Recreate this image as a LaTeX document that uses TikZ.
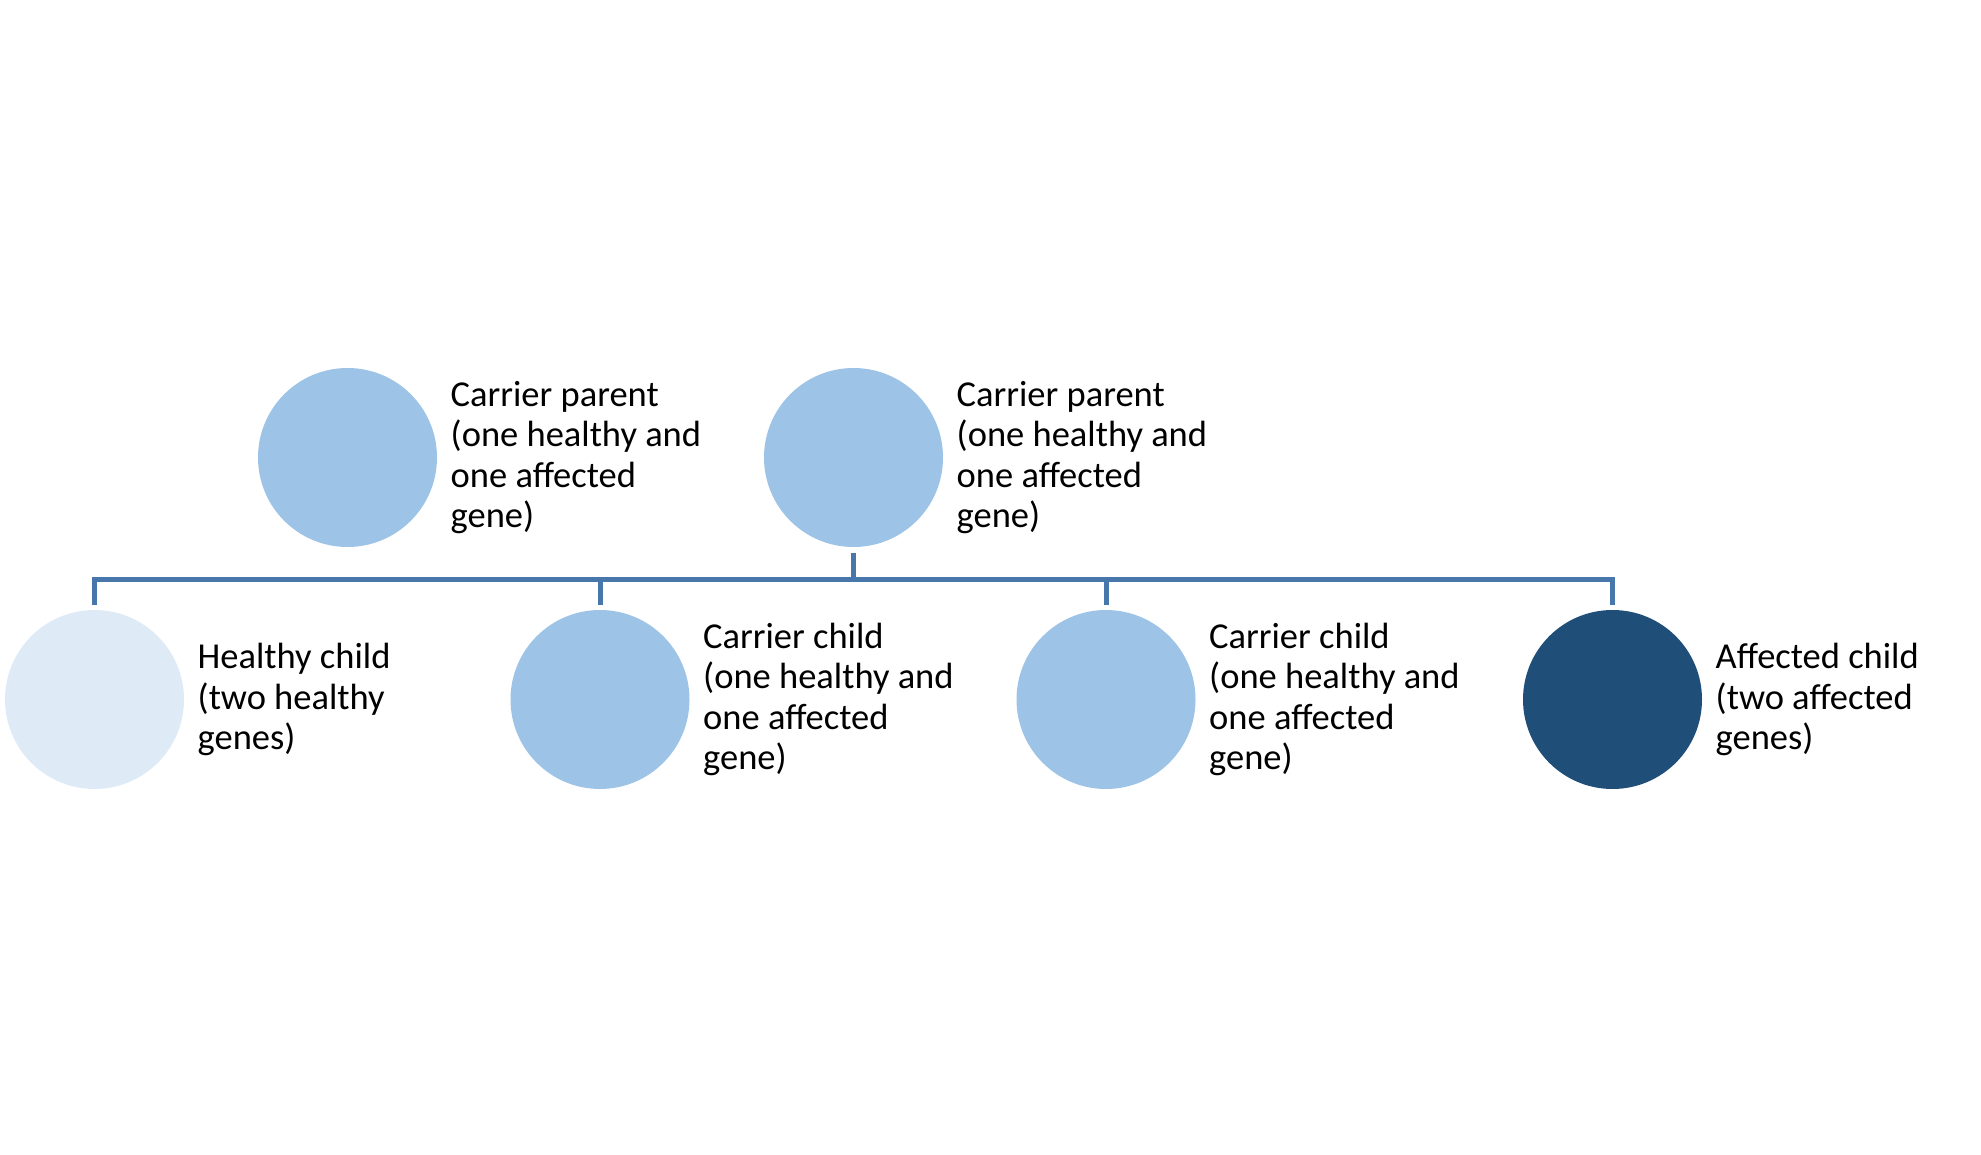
\documentclass[tikz,border=0pt]{standalone}
\usepackage{fontspec}
\setmainfont{Carlito}
\definecolor{carrier}{HTML}{9DC3E6}
\definecolor{healthy}{HTML}{DEEBF7}
\definecolor{affected}{HTML}{1F4E79}
\definecolor{linkc}{HTML}{4878AB}
\begin{document}
\begin{tikzpicture}[x=1pt,y=-1pt,
  person/.style={circle,minimum size=179pt,inner sep=0pt,outer sep=5.5pt,draw=none},
  lbl/.style={anchor=west,align=left,inner sep=0pt,font=\fontsize{36.5}{40.5}\selectfont},
  link/.style={draw=linkc,line width=5pt}]
\useasboundingbox (0,0) rectangle (1981,1155);
\node[person,fill=carrier] (p1) at (347.5,457.5) {};
\node[person,fill=carrier] (p2) at (853.5,457.5) {};
\node[person,fill=healthy] (c1) at (94.5,699.5) {};
\node[person,fill=carrier] (c2) at (600,699.5) {};
\node[person,fill=carrier] (c3) at (1106,699.5) {};
\node[person,fill=affected] (c4) at (1612.5,699.5) {};
\node[lbl] (t1) at ([xshift=8pt]p1.east) {Carrier parent\\(one healthy and\\one affected\\gene)};
\node[lbl] (t2) at ([xshift=8pt]p2.east) {Carrier parent\\(one healthy and\\one affected\\gene)};
\node[lbl] (u1) at ([xshift=8pt]c1.east) {Healthy child\\(two healthy\\genes)};
\node[lbl] (u2) at ([xshift=8pt]c2.east) {Carrier child\\(one healthy and\\one affected\\gene)};
\node[lbl] (u3) at ([xshift=8pt]c3.east) {Carrier child\\(one healthy and\\one affected\\gene)};
\node[lbl] (u4) at ([xshift=8pt]c4.east) {Affected child\\(two affected\\genes)};
\coordinate (bus) at (853.5,579);
\draw[link] (c1.north) |- (bus) -| (c4.north);
\draw[link] (p2.south) -- (p2.south |- bus);
\draw[link] (c2.north) -- (c2.north |- bus);
\draw[link] (c3.north) -- (c3.north |- bus);
\end{tikzpicture}
\end{document}
